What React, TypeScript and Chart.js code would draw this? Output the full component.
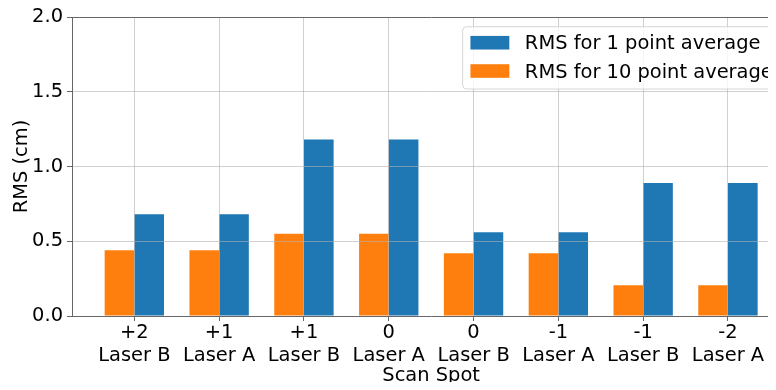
import React, { useEffect, useRef } from "react";
import { Chart, registerables } from "chart.js";

Chart.register(...registerables);

const spots = ["+2", "+1", "+1", "0", "0", "-1", "-1", "-2"];
const lasers = ["Laser B", "Laser A", "Laser B", "Laser A", "Laser B", "Laser A", "Laser B", "Laser A"];
const rms1 = [0.68, 0.68, 1.18, 1.18, 0.56, 0.56, 0.89, 0.89];
const rms10 = [0.44, 0.44, 0.55, 0.55, 0.42, 0.42, 0.205, 0.205];
const label1 = "RMS for 1 point average";
const label10 = "RMS for 10 point average";
const yMin = 0;
const yMax = 2;
const yStep = 0.5;

const FS = 19.44;
const FAMILY = "'DejaVu Sans'";
const BLUE = "#1f77b4";
const ORANGE = "#ff7f0e";
const SPINE = "#666666";
const GRID = "rgba(176,176,176,0.6)";

const legendPlugin = {
  id: "mplLegend",
  afterDraw(chart: any) {
    const { ctx, chartArea } = chart;
    const ds = chart.data.datasets;
    const items = [ds[1], ds[0]];
    ctx.save();
    ctx.font = `${FS}px ${FAMILY}`;
    const textW = Math.max(...items.map((d: any) => ctx.measureText(d.label).width));
    const pad = 0.4 * FS;
    const hl = 2 * FS;
    const hh = 0.7 * FS;
    const htp = 0.8 * FS;
    const bap = 0.5 * FS;
    const firstC = 16;
    const pitch = 28.3;
    const botPad = 18;
    const w = pad + hl + htp + textW + pad;
    const h = firstC + pitch + botPad;
    const x0 = chartArea.right - bap - w;
    const y0 = chartArea.top + bap;
    const r = 0.2 * FS;
    ctx.beginPath();
    ctx.moveTo(x0 + r, y0);
    ctx.arcTo(x0 + w, y0, x0 + w, y0 + h, r);
    ctx.arcTo(x0 + w, y0 + h, x0, y0 + h, r);
    ctx.arcTo(x0, y0 + h, x0, y0, r);
    ctx.arcTo(x0, y0, x0 + w, y0, r);
    ctx.closePath();
    ctx.fillStyle = "rgba(255,255,255,0.8)";
    ctx.fill();
    ctx.strokeStyle = "rgba(204,204,204,0.8)";
    ctx.lineWidth = 1;
    ctx.stroke();
    items.forEach((d: any, k: number) => {
      const yc = y0 + firstC + k * pitch;
      ctx.fillStyle = d.backgroundColor;
      ctx.fillRect(x0 + pad, yc - hh / 2, hl, hh);
      ctx.fillStyle = "#000";
      ctx.textBaseline = "middle";
      ctx.textAlign = "left";
      ctx.fillText(d.label, x0 + pad + hl + htp, yc + 1.5);
    });
    ctx.restore();
  },
};

export default function App() {
  const ref = useRef<HTMLCanvasElement>(null);
  useEffect(() => {
    const font = { family: FAMILY, size: FS };
    const chart = new Chart(ref.current as HTMLCanvasElement, {
      type: "bar",
      data: {
        datasets: [
          {
            label: label10,
            data: rms10.map((v, i) => ({ x: i, y: v })),
            backgroundColor: ORANGE,
            borderWidth: 0,
            categoryPercentage: 0.7,
            barPercentage: 1,
          },
          {
            label: label1,
            data: rms1.map((v, i) => ({ x: i, y: v })),
            backgroundColor: BLUE,
            borderWidth: 0,
            categoryPercentage: 0.7,
            barPercentage: 1,
          },
        ],
      },
      options: {
        responsive: false,
        animation: false,
        devicePixelRatio: 1,
        layout: { padding: { top: 17, right: 9.7, left: 0, bottom: 0 } },
        plugins: { legend: { display: false }, tooltip: { enabled: false } },
        scales: {
          x: {
            type: "linear",
            min: -0.735,
            max: spots.length - 1 + 0.735,
            offset: false,
            afterFit: (s: any) => {
              s.height = 74;
            },
            ticks: {
              stepSize: 1,
              includeBounds: false,
              autoSkip: false,
              maxRotation: 0,
              minRotation: 0,
              padding: 1,
              color: "#000",
              font: { family: FAMILY, size: FS, lineHeight: 1.15 },
              callback: (v: any) =>
                Number.isInteger(v) && v >= 0 && v < spots.length ? [spots[v], lasers[v]] : "",
            },
            grid: { offset: false, color: GRID, z: 1, tickLength: 5, tickColor: SPINE, lineWidth: 1 },
            border: { color: SPINE, width: 1, z: 1 },
            title: {
              display: true,
              text: "Scan Spot",
              color: "#000",
              font,
              padding: { top: 0, bottom: 2 },
            },
          },
          y: {
            min: yMin,
            max: yMax,
            afterFit: (s: any) => {
              s.width = 72;
            },
            ticks: {
              stepSize: yStep,
              padding: 4,
              color: "#000",
              font,
              callback: (v: any) => Number(v).toFixed(1),
            },
            grid: {
              color: (c: any) =>
                c.tick && c.tick.value === yMax ? SPINE : c.tick && c.tick.value === yMin ? "rgba(0,0,0,0)" : GRID,
              z: 1,
              tickLength: 5,
              tickColor: SPINE,
              lineWidth: 1,
            },
            border: { color: SPINE, width: 1, z: 1 },
            title: {
              display: true,
              text: "RMS (cm)",
              color: "#000",
              font,
              padding: { top: 10, bottom: 0 },
            },
          },
        },
      },
      plugins: [legendPlugin],
    } as any);
    return () => chart.destroy();
  }, []);
  return (
    <div style={{ margin: -8, width: 776, height: 390, overflow: "hidden" }}>
      <canvas ref={ref} width={800} height={390} style={{ display: "block", width: 800, height: 390 }} />
    </div>
  );
}
